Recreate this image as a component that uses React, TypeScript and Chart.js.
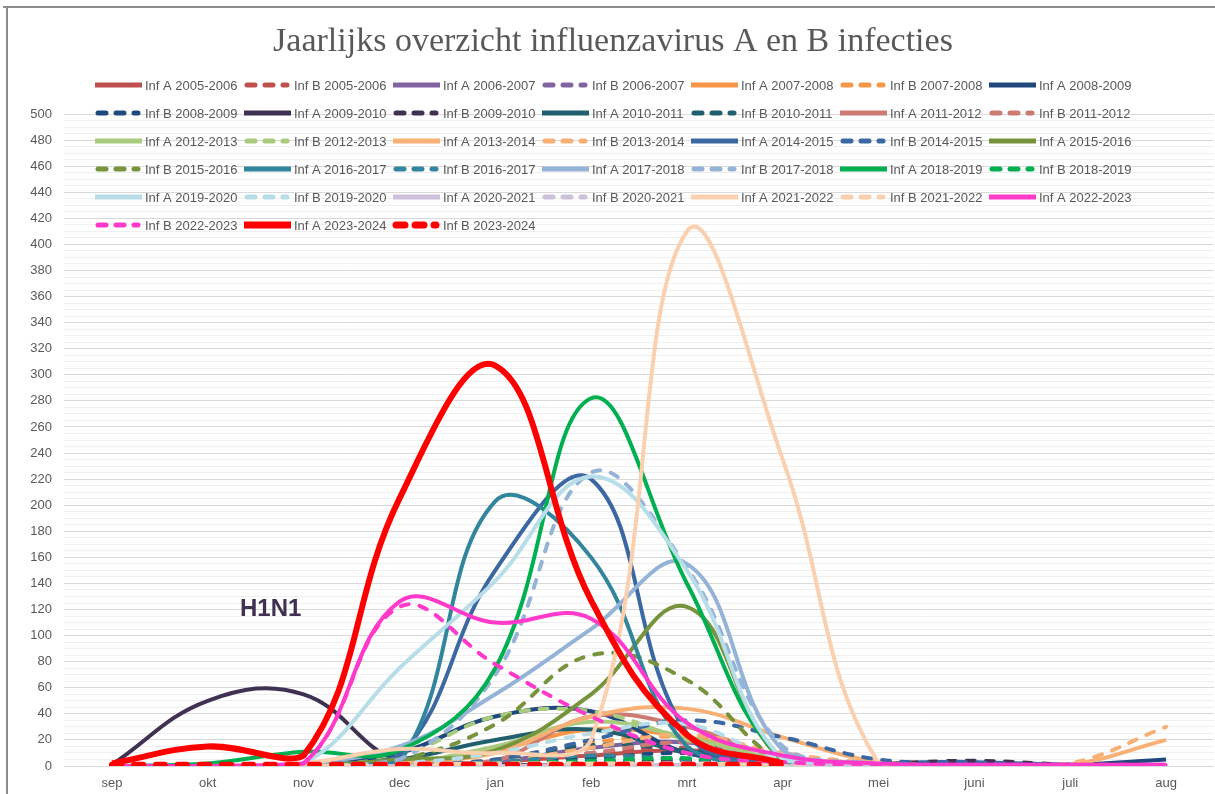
import React, { useEffect, useRef } from 'react';
import { Chart, registerables } from 'chart.js';

Chart.register(...registerables);

const months = ['sep', 'okt', 'nov', 'dec', 'jan', 'feb', 'mrt', 'apr', 'mei', 'juni', 'juli', 'aug'];

const seasons = [
  '2005-2006', '2006-2007', '2007-2008', '2008-2009', '2009-2010', '2010-2011',
  '2011-2012', '2012-2013', '2013-2014', '2014-2015', '2015-2016', '2016-2017',
  '2017-2018', '2018-2019', '2019-2020', '2020-2021', '2021-2022', '2022-2023', '2023-2024',
];

const seasonColors = [
  '#C0504D', '#8064A2', '#F79646', '#1F497D', '#403152', '#215F6E',
  '#CD7B72', '#A9CB7E', '#F9B074', '#3B68A3', '#77933C', '#31859C',
  '#95B3D7', '#00B050', '#B7DEE8', '#CCC0DA', '#FBD0AE', '#FF3ACB', '#FF0000',
];

// sep okt nov dec jan feb mrt apr mei juni juli aug
const infA_2005_2006 = [0, 0, 0, 0, 3, 8, 12, 4, 1, 0, 0, 0];
const infB_2005_2006 = [0, 0, 0, 0, 2, 10, 14, 5, 1, 0, 0, 0];
const infA_2006_2007 = [0, 0, 0, 1, 3, 14, 18, 5, 1, 0, 0, 0];
const infB_2006_2007 = [0, 0, 0, 0, 1, 3, 5, 2, 0, 0, 0, 0];
const infA_2007_2008 = [0, 0, 0, 2, 12, 28, 22, 7, 1, 0, 0, 0];
const infB_2007_2008 = [0, 0, 0, 1, 5, 18, 22, 8, 1, 0, 0, 0];
const infA_2008_2009 = [0, 0, 1, 10, 38, 42, 10, 2, 1, 1, 1, 5];
const infB_2008_2009 = [0, 0, 0, 1, 3, 6, 10, 4, 2, 3, 1, 0];
const infA_2009_2010 = [1, 50, 55, 3, 1, 0, 0, 0, 0, 0, 0, 0];
const infB_2009_2010 = [0, 0, 0, 0, 1, 2, 4, 3, 2, 4, 1, 0];
const infA_2010_2011 = [0, 0, 0, 5, 20, 28, 10, 2, 0, 0, 0, 0];
const infB_2010_2011 = [0, 0, 0, 1, 4, 16, 12, 3, 1, 0, 0, 0];
const infA_2011_2012 = [0, 0, 0, 1, 4, 38, 30, 6, 1, 0, 0, 0];
const infB_2011_2012 = [0, 0, 0, 0, 2, 10, 18, 6, 1, 0, 0, 0];
const infA_2012_2013 = [0, 0, 0, 2, 15, 34, 22, 5, 1, 0, 0, 0];
const infB_2012_2013 = [0, 0, 1, 8, 38, 42, 20, 3, 1, 0, 0, 0];
const infA_2013_2014 = [0, 0, 0, 3, 10, 38, 44, 22, 3, 0, 1, 20];
const infB_2013_2014 = [0, 0, 0, 1, 3, 14, 24, 10, 2, 0, 2, 30];
const infA_2014_2015 = [0, 0, 1, 8, 150, 220, 25, 2, 0, 0, 0, 0];
const infB_2014_2015 = [0, 0, 0, 1, 5, 20, 35, 22, 5, 3, 1, 0];
const infA_2015_2016 = [0, 0, 0, 5, 12, 55, 122, 4, 0, 0, 0, 0];
const infB_2015_2016 = [0, 0, 0, 5, 32, 85, 66, 4, 0, 0, 0, 0];
const infA_2016_2017 = [0, 0, 0, 3, 203, 160, 15, 1, 0, 0, 0, 0];
const infB_2016_2017 = [0, 0, 0, 0, 3, 8, 5, 1, 0, 0, 0, 0];
const infA_2017_2018 = [0, 0, 2, 15, 55, 105, 155, 12, 2, 0, 0, 0];
const infB_2017_2018 = [0, 0, 0, 5, 70, 225, 152, 15, 2, 0, 0, 0];
const infA_2018_2019 = [0, 2, 11, 12, 75, 282, 140, 5, 1, 0, 0, 0];
const infB_2018_2019 = [0, 0, 0, 1, 2, 4, 6, 2, 0, 0, 0, 0];
const infA_2019_2020 = [0, 0, 2, 75, 142, 222, 150, 5, 1, 0, 0, 0];
const infB_2019_2020 = [0, 0, 0, 2, 10, 25, 32, 5, 1, 0, 0, 0];
const infA_2020_2021 = [0, 0, 0, 0, 0, 0, 1, 0, 0, 0, 0, 0];
const infB_2020_2021 = [0, 0, 0, 0, 0, 0, 0, 0, 0, 0, 0, 0];
const infA_2021_2022 = [0, 0, 2, 13, 10, 20, 410, 235, 2, 0, 0, 0];
const infB_2021_2022 = [0, 0, 0, 1, 2, 2, 2, 1, 0, 0, 0, 0];
const infA_2022_2023 = [0, 0, 2, 126, 110, 113, 33, 8, 2, 1, 1, 1];
const infB_2022_2023 = [0, 0, 2, 122, 78, 38, 10, 3, 1, 1, 1, 1];
const infA_2023_2024 = [2, 15, 8, 205, 307, 127, 24, 2, null, null, null, null];
const infB_2023_2024 = [1, 1, 1, 1, 1, 1, 1, 1, null, null, null, null];

const infA = [
  infA_2005_2006, infA_2006_2007, infA_2007_2008, infA_2008_2009, infA_2009_2010,
  infA_2010_2011, infA_2011_2012, infA_2012_2013, infA_2013_2014, infA_2014_2015,
  infA_2015_2016, infA_2016_2017, infA_2017_2018, infA_2018_2019, infA_2019_2020,
  infA_2020_2021, infA_2021_2022, infA_2022_2023, infA_2023_2024,
];
const infB = [
  infB_2005_2006, infB_2006_2007, infB_2007_2008, infB_2008_2009, infB_2009_2010,
  infB_2010_2011, infB_2011_2012, infB_2012_2013, infB_2013_2014, infB_2014_2015,
  infB_2015_2016, infB_2016_2017, infB_2017_2018, infB_2018_2019, infB_2019_2020,
  infB_2020_2021, infB_2021_2022, infB_2022_2023, infB_2023_2024,
];

const TITLE = 'Jaarlijks overzicht influenzavirus A en B infecties';
const ANNOTATION = 'H1N1';
const TEXT_COLOR = '#595959';

function buildDatasets() {
  const out: any[] = [];
  seasons.forEach((s, i) => {
    const last = i === seasons.length - 1;
    out.push({
      label: `Inf A ${s}`,
      data: infA[i],
      borderColor: seasonColors[i],
      backgroundColor: seasonColors[i],
      borderWidth: last ? 6 : 4,
      borderDash: [],
      dashed: false,
    });
    out.push({
      label: `Inf B ${s}`,
      data: infB[i],
      borderColor: seasonColors[i],
      backgroundColor: seasonColors[i],
      borderWidth: last ? 6 : 4,
      borderDash: last ? [9, 13] : [8, 11],
      borderCapStyle: 'round',
      dashed: true,
    });
  });
  const n = out.length;
  return out.map((d, idx) => ({
    ...d,
    fill: false,
    tension: 0.4,
    pointRadius: 0,
    pointHoverRadius: 0,
    spanGaps: false,
    order: n - idx,
  }));
}

const decorPlugin = {
  id: 'decor',
  beforeDraw(chart: any) {
    const { ctx, width, height } = chart;
    ctx.save();
    ctx.fillStyle = '#ffffff';
    ctx.fillRect(0, 0, width, height);
    ctx.fillStyle = '#8c8c8c';
    ctx.fillRect(3, 6, width - 3, 2);
    ctx.fillRect(6, 6, 2, height - 6);
    ctx.restore();
  },
  afterDraw(chart: any) {
    const { ctx } = chart;
    ctx.save();
    // title
    ctx.fillStyle = TEXT_COLOR;
    ctx.font = '34px "Liberation Serif", serif';
    ctx.textAlign = 'center';
    ctx.textBaseline = 'middle';
    ctx.fillText(TITLE, 613, 42);

    // legend
    const items = chart.data.datasets;
    ctx.font = '13px "Liberation Sans", Arial, sans-serif';
    ctx.textAlign = 'left';
    items.forEach((d: any, i: number) => {
      const row = Math.floor(i / 7);
      const col = i % 7;
      const tx = 145 + col * 149;
      const ty = 85 + row * 28;
      const last = d.label.endsWith('2023-2024');
      ctx.save();
      ctx.beginPath();
      ctx.rect(tx - 54, ty - 6, 52, 12);
      ctx.clip();
      ctx.strokeStyle = d.borderColor;
      ctx.lineWidth = last ? 7 : 5;
      ctx.lineCap = d.dashed ? 'round' : 'butt';
      ctx.setLineDash(d.dashed ? (last ? [9, 10] : [8, 10]) : []);
      ctx.beginPath();
      if (d.dashed) {
        ctx.moveTo(tx - 47, ty);
        ctx.lineTo(tx - 7, ty);
      } else {
        ctx.moveTo(tx - 50, ty);
        ctx.lineTo(tx - 3, ty);
      }
      ctx.stroke();
      ctx.restore();
      ctx.fillStyle = TEXT_COLOR;
      ctx.fillText(d.label, tx, ty + 1);
    });

    // annotation
    const xs = chart.scales.x;
    const ys = chart.scales.y;
    const ax = (xs.getPixelForValue(1) + xs.getPixelForValue(2)) / 2 + 15;
    const ay = ys.getPixelForValue(120);
    ctx.fillStyle = '#403152';
    ctx.font = 'bold 24px "Liberation Sans", Arial, sans-serif';
    ctx.textAlign = 'center';
    ctx.textBaseline = 'middle';
    ctx.fillText(ANNOTATION, ax, ay);
    ctx.restore();
  },
};

export default function App() {
  const ref = useRef<HTMLCanvasElement | null>(null);
  useEffect(() => {
    document.body.style.margin = '0';
    const canvas = ref.current;
    if (!canvas) return;
    const chart = new Chart(canvas, {
      type: 'line',
      data: { labels: months, datasets: buildDatasets() as any },
      options: {
        responsive: false,
        animation: false,
        events: [],
        layout: { padding: { left: 0, top: 114, right: 1, bottom: 2 } },
        plugins: {
          legend: { display: false },
          title: { display: false },
          tooltip: { enabled: false },
        },
        scales: {
          x: {
            offset: true,
            grid: { display: false, drawTicks: false },
            border: { display: false },
            ticks: {
              color: TEXT_COLOR,
              padding: 10,
              font: { family: '"Liberation Sans", Arial, sans-serif', size: 13 },
            },
            afterFit: (s: any) => { s.height = 26; },
          },
          y: {
            min: 0,
            max: 500,
            border: { display: false },
            grid: {
              drawTicks: false,
              color: (c: any) => (c.tick && c.tick.value % 20 === 0 ? '#d9d9d9' : '#efefef'),
              lineWidth: 1,
            },
            ticks: {
              stepSize: 5,
              autoSkip: false,
              color: TEXT_COLOR,
              padding: 12,
              font: { family: '"Liberation Sans", Arial, sans-serif', size: 13 },
              callback: (v: any) => (Number(v) % 20 === 0 ? String(v) : ''),
            },
            afterFit: (s: any) => { s.width = 64; },
          },
        },
      },
      plugins: [decorPlugin],
    });
    return () => chart.destroy();
  }, []);
  return (
    <div style={{ position: 'absolute', left: 0, top: 0, width: 1215, height: 794 }}>
      <canvas ref={ref} width={1215} height={794} style={{ display: 'block' }} />
    </div>
  );
}
